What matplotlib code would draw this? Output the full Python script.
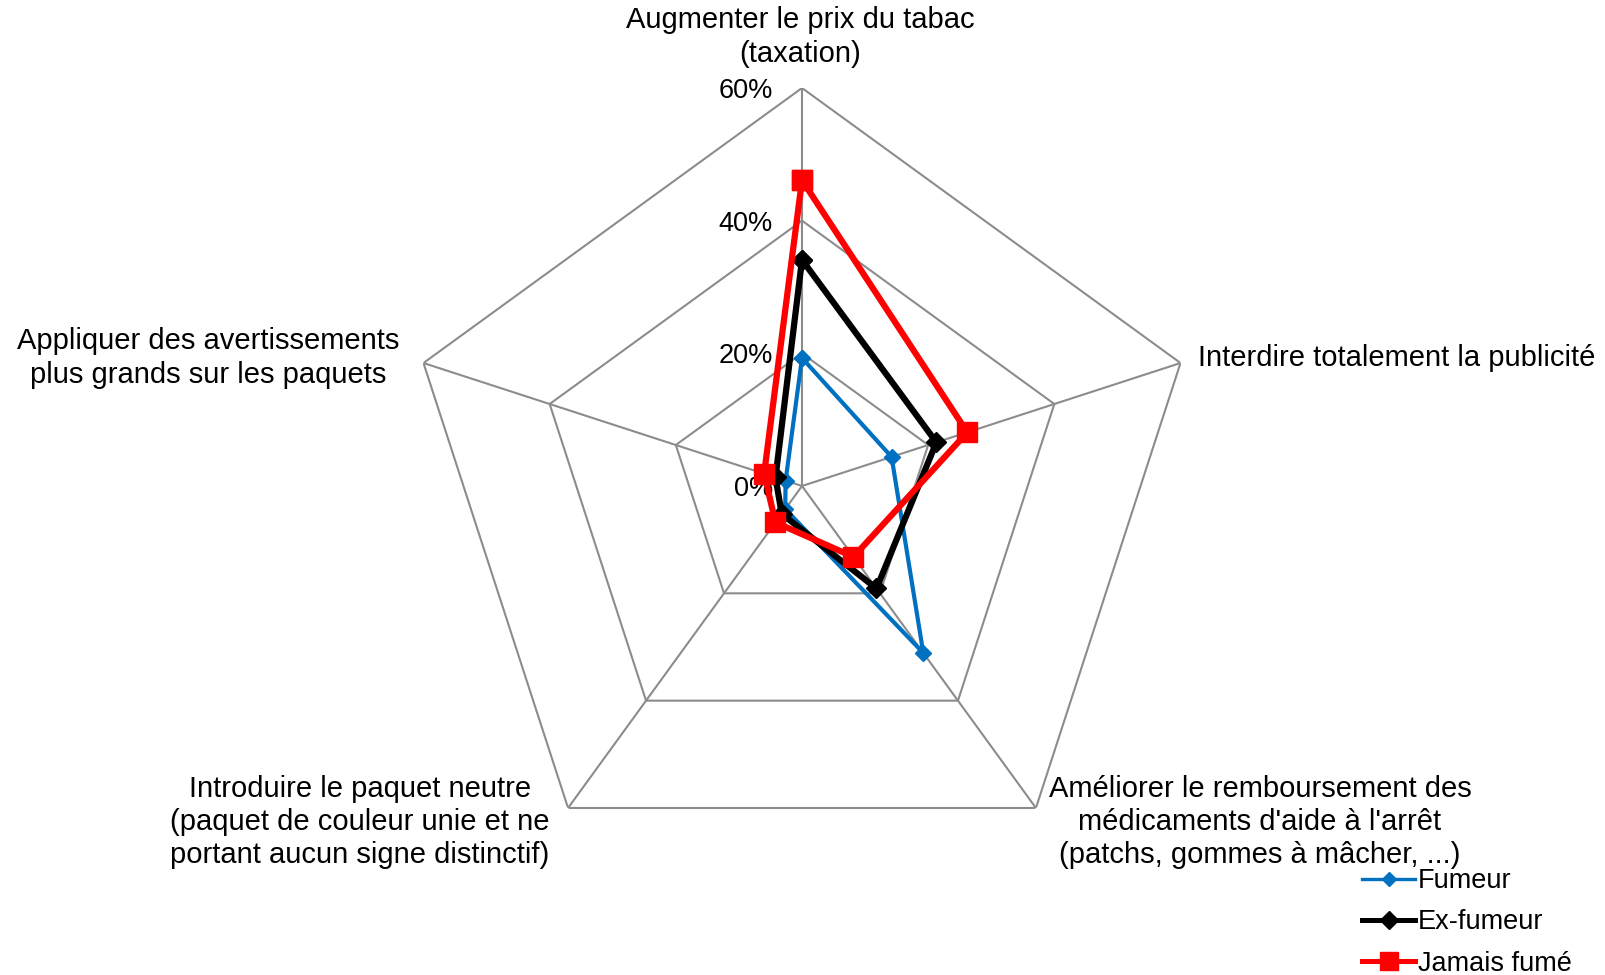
import numpy as np
import matplotlib
matplotlib.use("Agg")
import matplotlib.pyplot as plt
from matplotlib.lines import Line2D

plt.rcParams['font.family'] = ['Liberation Sans', 'DejaVu Sans']

categories = [
    "Augmenter le prix du tabac\n(taxation)",
    "Interdire totalement la publicité",
    "Améliorer le remboursement des\nmédicaments d'aide à l'arrêt\n(patchs, gommes à mâcher, ...)",
    "Introduire le paquet neutre\n(paquet de couleur unie et ne\nportant aucun signe distinctif)",
    "Appliquer des avertissements\nplus grands sur les paquets",
]
fumeur = [19.3, 14.2, 31.1, 4.3, 2.6]
ex_fumeur = [34.1, 21.3, 19.1, 5.2, 4.2]
jamais = [46.1, 26.2, 13.2, 6.8, 6.0]
series_names = ["Fumeur", "Ex-fumeur", "Jamais fumé"]
ticks = [0, 20, 40, 60]
tick_labels = ["0%", "20%", "40%", "60%"]

W, H = 1606, 975
fig = plt.figure(figsize=(W / 100, H / 100), dpi=100)
cx, cy, R = 802, 486, 398
ax = fig.add_axes([(cx - R) / W, 1 - (cy + R) / H, 2 * R / W, 2 * R / H], polar=True)
ax.set_theta_zero_location('N')
ax.set_theta_direction(-1)
ax.set_ylim(0, 60)
ax.grid(False)
ax.spines['polar'].set_visible(False)
ax.set_xticks([])
ax.set_yticks([])
ax.patch.set_alpha(0)

n = len(categories)
theta = np.linspace(0, 2 * np.pi, n, endpoint=False)
theta_c = np.append(theta, theta[0])
grid_col = '#8c8c8c'
for t in ticks[1:]:
    ax.plot(theta_c, [t] * (n + 1), color=grid_col, lw=1.5, zorder=1)
for th in theta:
    ax.plot([th, th], [0, ticks[-1]], color=grid_col, lw=1.5, zorder=1)

for t, lab in zip(ticks, tick_labels):
    ax.annotate(lab, xy=(0, t), xytext=(-29, -3), textcoords='offset pixels',
                ha='right', va='center', fontsize=19.5, color='black')

styles = [
    dict(color='#0070C0', lw=3, marker='D', ms=8),
    dict(color='black', lw=4.5, marker='D', ms=10),
    dict(color='#FF0000', lw=4.5, marker='s', ms=14),
]
for vals, st, name in zip([fumeur, ex_fumeur, jamais], styles, series_names):
    v = np.append(vals, vals[0])
    ax.plot(theta_c, v, color=st['color'], lw=st['lw'], marker=st['marker'],
            ms=st['ms'], mfc=st['color'], mec=st['color'], zorder=3, label=name,
            clip_on=False)

# category labels
label_pos = [
    (800, 37, 'center', 'center'),
    (1198, 358, 'left', 'center'),
    (1260, 822, 'center', 'center'),
    (360, 822, 'center', 'center'),
    (208, 358, 'center', 'center'),
]
for lab, (x, y, ha, va) in zip(categories, label_pos):
    fig.text(x / W, 1 - y / H, lab, ha=ha, va=va, fontsize=21,
             linespacing=1.23, multialignment='center')

handles = [Line2D([], [], color=st['color'], lw=st['lw'] * 0.8, marker=st['marker'],
                  ms=st['ms'] * 0.95, mfc=st['color'], mec=st['color']) for st in styles]
fig.legend(handles, series_names, loc='upper left',
           bbox_to_anchor=(1362 / W, 1 - 868 / H), frameon=False, fontsize=19.5,
           handlelength=1.96, handletextpad=0.1, labelspacing=0.57,
           borderpad=0, borderaxespad=0)

fig.savefig('out.png', dpi=100)
